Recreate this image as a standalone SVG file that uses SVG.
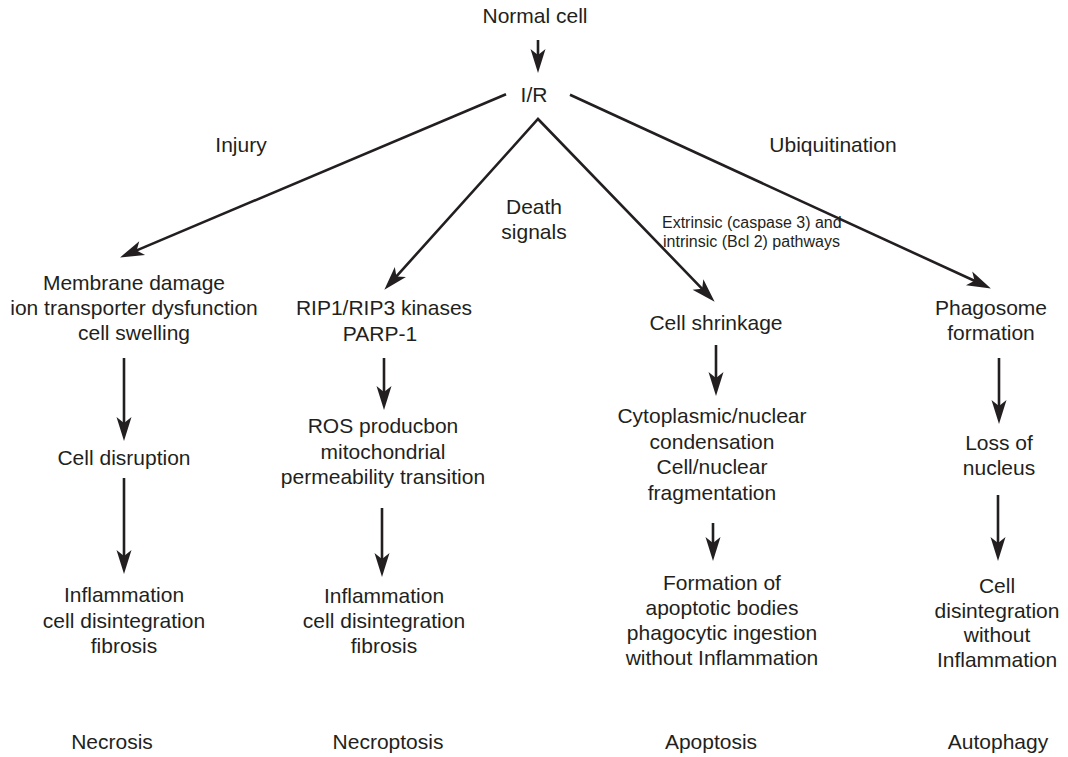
<svg xmlns="http://www.w3.org/2000/svg" width="1068" height="757" viewBox="0 0 1068 757">
<style>
text{font-family:"Liberation Sans",Arial,sans-serif;font-size:21px;fill:#231f20;text-anchor:middle}
text.s{font-size:16px;text-anchor:start}
.c{fill:none;stroke:#231f20;stroke-width:2.6}
</style>
<defs>
<marker id="ah" viewBox="-14 -9 26 18" refX="0" refY="0" markerWidth="26" markerHeight="18" markerUnits="userSpaceOnUse" orient="auto-start-reverse">
<path d="M11,0 L-13,-7.5 L-7,0 L-13,7.5 Z" fill="#231f20"/>
</marker>
</defs>
<rect width="1068" height="757" fill="#fff"/>
<g id="connectors">
<path class="c" d="M538,40 L538,62" marker-end="url(#ah)"/>
<path class="c" d="M506,94.3 L130.2,253.1" marker-end="url(#ah)"/>
<path class="c" d="M391.7,281.6 L538,119 L707,293.8" marker-start="url(#ah)" marker-end="url(#ah)"/>
<path class="c" d="M570,94.7 L980.9,283.8" marker-end="url(#ah)"/>
<path class="c" d="M124,358 L124,430" marker-end="url(#ah)"/>
<path class="c" d="M124,478 L124,563" marker-end="url(#ah)"/>
<path class="c" d="M384,358 L384,399" marker-end="url(#ah)"/>
<path class="c" d="M382,508 L382,566" marker-end="url(#ah)"/>
<path class="c" d="M716,345 L716,385" marker-end="url(#ah)"/>
<path class="c" d="M713,523 L713,550" marker-end="url(#ah)"/>
<path class="c" d="M999,358 L999,413" marker-end="url(#ah)"/>
<path class="c" d="M998,495 L998,550" marker-end="url(#ah)"/>
</g>
<g id="normal-cell"><text x="535" y="23">Normal cell</text></g>
<g id="ir"><text x="534" y="102">I/R</text></g>
<g id="label-injury"><text x="241" y="152">Injury</text></g>
<g id="label-ubiquitination"><text x="833" y="152">Ubiquitination</text></g>
<g id="label-death"><text x="534" y="214">Death</text><text x="534" y="239">signals</text></g>
<g id="label-pathways"><text class="s" x="662" y="228">Extrinsic (caspase 3) and</text><text class="s" x="663" y="247">intrinsic (Bcl 2) pathways</text></g>
<g id="membrane"><text x="134" y="290">Membrane damage</text><text x="134" y="315">ion transporter dysfunction</text><text x="134" y="340">cell swelling</text></g>
<g id="disruption"><text x="124" y="465">Cell disruption</text></g>
<g id="necrosis-outcome"><text x="124" y="602">Inflammation</text><text x="124" y="628">cell disintegration</text><text x="124" y="653">fibrosis</text></g>
<g id="rip"><text x="384" y="315">RIP1/RIP3 kinases</text><text x="380" y="341">PARP-1</text></g>
<g id="ros"><text x="383" y="433">ROS producbon</text><text x="383" y="459">mitochondrial</text><text x="383" y="484">permeability transition</text></g>
<g id="necroptosis-outcome"><text x="384" y="603">Inflammation</text><text x="384" y="628">cell disintegration</text><text x="384" y="653">fibrosis</text></g>
<g id="shrinkage"><text x="716" y="330">Cell shrinkage</text></g>
<g id="condensation"><text x="712" y="423">Cytoplasmic/nuclear</text><text x="712" y="449">condensation</text><text x="712" y="474">Cell/nuclear</text><text x="712" y="500">fragmentation</text></g>
<g id="apoptosis-outcome"><text x="722" y="590">Formation of</text><text x="722" y="615">apoptotic bodies</text><text x="722" y="640">phagocytic ingestion</text><text x="722" y="665">without Inflammation</text></g>
<g id="phagosome"><text x="991" y="315">Phagosome</text><text x="991" y="340">formation</text></g>
<g id="loss"><text x="999" y="450">Loss of</text><text x="999" y="475">nucleus</text></g>
<g id="autophagy-outcome"><text x="997" y="593">Cell</text><text x="997" y="618">disintegration</text><text x="997" y="642">without</text><text x="997" y="667">Inflammation</text></g>
<g id="bottom-labels"><text x="112" y="749">Necrosis</text><text x="388" y="749">Necroptosis</text><text x="711" y="749">Apoptosis</text><text x="998" y="749">Autophagy</text></g>
</svg>
